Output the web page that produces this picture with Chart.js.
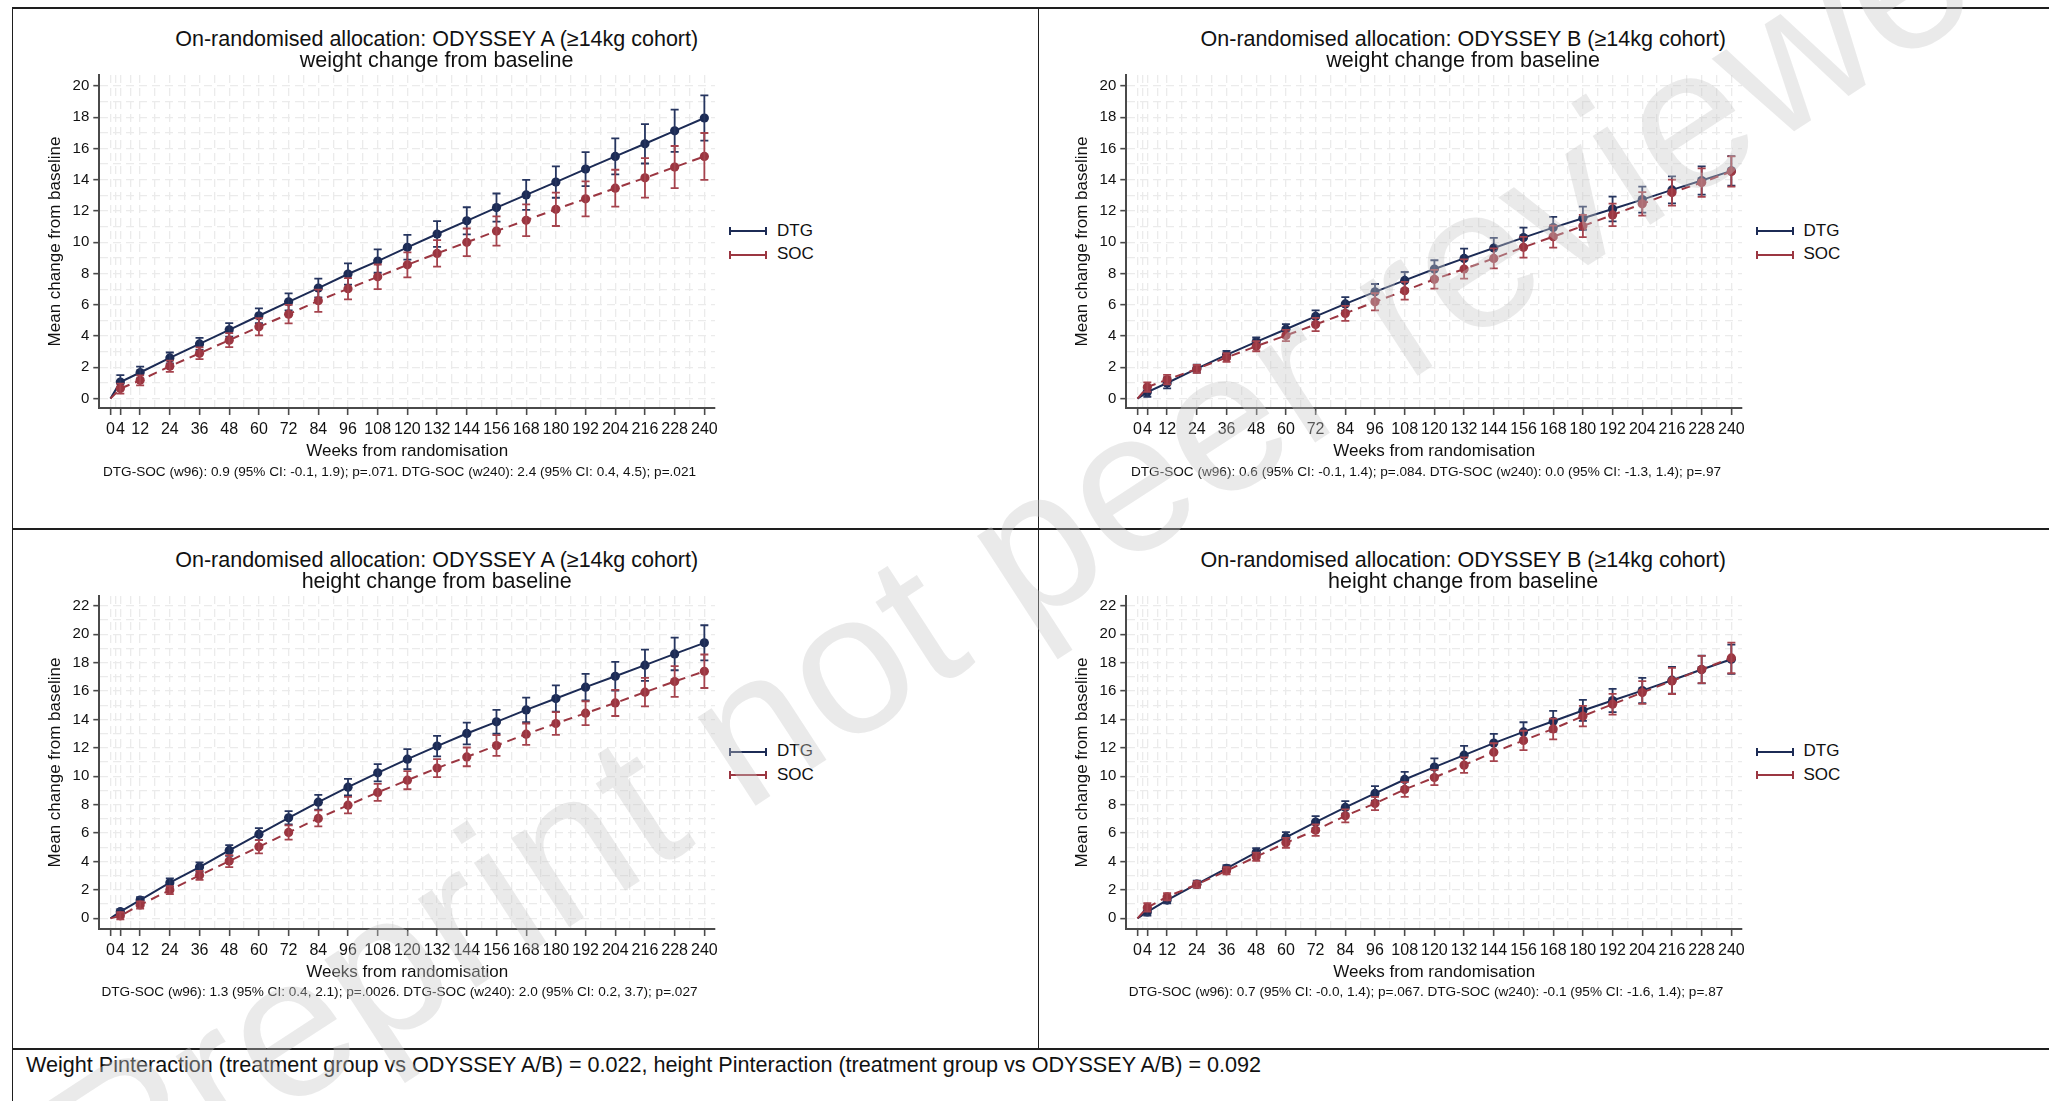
<!DOCTYPE html>
<html>
<head>
<meta charset="utf-8">
<title>ODYSSEY weight and height change</title>
<script src="https://cdn.jsdelivr.net/npm/chart.js@4.4.0/dist/chart.umd.min.js"></script>
<style>
  html, body { margin: 0; padding: 0; background: #fff; }
  body { width: 2049px; height: 1101px; position: relative; overflow: hidden;
         font-family: "Liberation Sans", Arial, sans-serif; color: #111; }
  .rule { position: absolute; background: #1e1e1e; }
  canvas { position: absolute; }
  .ttl { position: absolute; width: 900px; text-align: center; font-size: 21.5px; line-height: 22px; white-space: nowrap; }
  .note { position: absolute; width: 900px; text-align: center; font-size: 13.6px; line-height: 16px; white-space: nowrap; }
  .leg-line { position: absolute; height: 2px; width: 38px; }
  .leg-line::before, .leg-line::after { content: ""; position: absolute; top: -3px; width: 2px; height: 8px; background: inherit; }
  .leg-line::before { left: 0; }
  .leg-line::after { right: 0; }
  .leg-txt { position: absolute; font-size: 17px; line-height: 20px; white-space: nowrap; }
  .footer { position: absolute; left: 26px; top: 1053px; font-size: 21.6px; line-height: 24px; white-space: nowrap; }
  svg.wm { position: absolute; left: 0; top: 0; pointer-events: none; }
</style>
</head>
<body>

<script>
// ---- data (weeks 0..240, value at week 0 is the baseline) ----
const weeks = [0, 4, 12, 24, 36, 48, 60, 72, 84, 96, 108, 120, 132, 144, 156, 168, 180, 192, 204, 216, 228, 240];
const xTickWeeks = [0, 4, 12, 24, 36, 48, 60, 72, 84, 96, 108, 120, 132, 144, 156, 168, 180, 192, 204, 216, 228, 240];
const xGridWeeks = [0, 2, 4, 8, 12, 18, 24, 30, 36, 42, 48, 54, 60, 66, 72, 78, 84, 90, 96, 102, 108, 114, 120,
                    126, 132, 138, 144, 150, 156, 162, 168, 174, 180, 186, 192, 198, 204, 210, 216, 222, 228, 234, 240];
const yGridWeight = [0, 1, 2, 3, 4, 5, 6, 7, 8, 9, 10, 11, 12, 13, 14, 15, 16, 17, 18, 19, 20];
const yGridHeight = [0, 1, 2, 3, 4, 5, 6, 7, 8, 9, 10, 11, 12, 13, 14, 15, 16, 17, 18, 19, 20, 21, 22];

// ODYSSEY A weight
const wtA_DTG    = [0, 1.06, 1.67, 2.60, 3.50, 4.40, 5.30, 6.19, 7.07, 7.97, 8.80, 9.68, 10.53, 11.37, 12.22, 13.03, 13.85, 14.68, 15.49, 16.30, 17.13, 17.95];
const wtA_DTG_ci = [0, 0.44, 0.38, 0.35, 0.38, 0.43, 0.47, 0.54, 0.60, 0.68, 0.75, 0.79, 0.82, 0.87, 0.90, 0.96, 1.00, 1.09, 1.15, 1.26, 1.35, 1.45];
const wtA_SOC    = [0, 0.64, 1.17, 2.07, 2.90, 3.74, 4.59, 5.40, 6.26, 7.03, 7.79, 8.56, 9.29, 10.00, 10.72, 11.41, 12.11, 12.78, 13.46, 14.12, 14.81, 15.49];
const wtA_SOC_ci = [0, 0.32, 0.32, 0.36, 0.38, 0.45, 0.55, 0.59, 0.71, 0.68, 0.79, 0.80, 0.85, 0.88, 0.94, 1.01, 1.07, 1.12, 1.18, 1.26, 1.35, 1.50];

// ODYSSEY B weight
const wtB_DTG    = [0, 0.42, 1.00, 1.92, 2.80, 3.63, 4.44, 5.26, 6.06, 6.83, 7.56, 8.29, 8.97, 9.63, 10.30, 10.94, 11.54, 12.13, 12.73, 13.35, 13.95, 14.57];
const wtB_DTG_ci = [0, 0.30, 0.35, 0.25, 0.25, 0.28, 0.32, 0.38, 0.43, 0.50, 0.54, 0.56, 0.62, 0.65, 0.64, 0.68, 0.74, 0.79, 0.83, 0.86, 0.90, 0.94];
const wtB_SOC    = [0, 0.74, 1.22, 1.90, 2.63, 3.35, 4.04, 4.74, 5.45, 6.19, 6.90, 7.63, 8.29, 8.97, 9.68, 10.36, 11.04, 11.75, 12.46, 13.18, 13.82, 14.53];
const wtB_SOC_ci = [0, 0.30, 0.30, 0.25, 0.28, 0.32, 0.36, 0.42, 0.48, 0.55, 0.57, 0.60, 0.62, 0.64, 0.66, 0.70, 0.71, 0.72, 0.75, 0.83, 0.91, 0.97];

// ODYSSEY A height
const htA_DTG    = [0, 0.47, 1.29, 2.51, 3.61, 4.78, 5.93, 7.08, 8.18, 9.24, 10.25, 11.21, 12.13, 13.02, 13.84, 14.68, 15.48, 16.28, 17.05, 17.83, 18.62, 19.40];
const htA_DTG_ci = [0, 0.18, 0.20, 0.30, 0.33, 0.38, 0.42, 0.47, 0.52, 0.58, 0.61, 0.70, 0.72, 0.77, 0.84, 0.87, 0.92, 0.93, 1.01, 1.10, 1.15, 1.24];
const htA_SOC    = [0, 0.18, 0.94, 1.99, 3.03, 4.03, 5.04, 6.05, 7.04, 7.97, 8.87, 9.73, 10.58, 11.37, 12.17, 12.97, 13.72, 14.45, 15.17, 15.93, 16.68, 17.40];
const htA_SOC_ci = [0, 0.25, 0.25, 0.28, 0.32, 0.42, 0.47, 0.50, 0.56, 0.58, 0.60, 0.64, 0.63, 0.66, 0.73, 0.75, 0.80, 0.84, 0.92, 1.00, 1.08, 1.18];

// ODYSSEY B height
const htB_DTG    = [0, 0.45, 1.29, 2.41, 3.52, 4.64, 5.70, 6.78, 7.81, 8.80, 9.78, 10.65, 11.49, 12.34, 13.13, 13.88, 14.64, 15.34, 16.04, 16.77, 17.52, 18.25];
const htB_DTG_ci = [0, 0.25, 0.23, 0.25, 0.23, 0.31, 0.37, 0.42, 0.44, 0.51, 0.54, 0.61, 0.66, 0.65, 0.68, 0.73, 0.74, 0.82, 0.89, 0.94, 0.98, 1.03];
const htB_SOC    = [0, 0.77, 1.52, 2.39, 3.35, 4.34, 5.32, 6.21, 7.22, 8.09, 9.08, 9.92, 10.79, 11.70, 12.53, 13.34, 14.24, 15.08, 15.90, 16.72, 17.52, 18.34];
const htB_SOC_ci = [0, 0.30, 0.25, 0.22, 0.25, 0.29, 0.35, 0.40, 0.46, 0.47, 0.52, 0.54, 0.54, 0.63, 0.68, 0.73, 0.72, 0.73, 0.80, 0.92, 0.96, 1.08];

const panelTitles = [
  ['On-randomised allocation: ODYSSEY A (\u226514kg cohort)', 'weight change from baseline'],
  ['On-randomised allocation: ODYSSEY B (\u226514kg cohort)', 'weight change from baseline'],
  ['On-randomised allocation: ODYSSEY A (\u226514kg cohort)', 'height change from baseline'],
  ['On-randomised allocation: ODYSSEY B (\u226514kg cohort)', 'height change from baseline']
];
const panelNotes = [
  'DTG-SOC (w96): 0.9 (95% CI: -0.1, 1.9); p=.071. DTG-SOC (w240): 2.4 (95% CI: 0.4, 4.5); p=.021',
  'DTG-SOC (w96): 0.6 (95% CI: -0.1, 1.4); p=.084. DTG-SOC (w240): 0.0 (95% CI: -1.3, 1.4); p=.97',
  'DTG-SOC (w96): 1.3 (95% CI: 0.4, 2.1); p=.0026. DTG-SOC (w240): 2.0 (95% CI: 0.2, 3.7); p=.027',
  'DTG-SOC (w96): 0.7 (95% CI: -0.0, 1.4); p=.067. DTG-SOC (w240): -0.1 (95% CI: -1.6, 1.4); p=.87'
];
const footerText = 'Weight Pinteraction (treatment group vs ODYSSEY A/B) = 0.022, height Pinteraction (treatment group vs ODYSSEY A/B) = 0.092';

const DTG_COLOR = '#1c2b55';
const SOC_COLOR = '#9b3641';
const DTG_BAR = '#26355f';
const SOC_BAR = '#a5434d';
const GRID_COLOR = '#ebebeb';
const AXIS_COLOR = '#4a4a4a';

Chart.defaults.font.family = '"Liberation Sans", Arial, sans-serif';
Chart.defaults.color = '#111';

// vertical CI bars with caps, drawn right after each dataset
const errorBars = {
  id: 'errorBars',
  afterDatasetDraw(chart, args) {
    const ds = chart.data.datasets[args.index];
    if (!ds.err) return;
    const { ctx, scales: { x, y } } = chart;
    ctx.save();
    ctx.strokeStyle = ds.barColor;
    ctx.lineWidth = 1.8;
    ds.data.forEach((p, i) => {
      const e = ds.err[i];
      if (!e) return;
      const px = x.getPixelForValue(p.x);
      const top = y.getPixelForValue(p.y + e);
      const bot = y.getPixelForValue(p.y - e);
      ctx.beginPath();
      ctx.moveTo(px, top); ctx.lineTo(px, bot);
      ctx.moveTo(px - 4, top); ctx.lineTo(px + 4, top);
      ctx.moveTo(px - 4, bot); ctx.lineTo(px + 4, bot);
      ctx.stroke();
    });
    ctx.restore();
  }
};

function addDiv(cls, text, css) {
  const d = document.createElement('div');
  d.className = cls;
  if (text) d.textContent = text;
  Object.assign(d.style, css);
  document.body.appendChild(d);
  return d;
}

function makePanel(k, dx, dy, dtg, dtgCi, soc, socCi, yMin, yMax, yGrid) {
  // canvas spans 20..723 x 62..470 (top-left panel); plot area lands at 99.3..715 x 75..408
  const cv = document.createElement('canvas');
  cv.width = 703;
  cv.height = 408;
  cv.style.left = (20 + dx) + 'px';
  cv.style.top = (62 + dy) + 'px';
  document.body.appendChild(cv);

  new Chart(cv, {
    type: 'line',
    data: {
      datasets: [
        {
          label: 'DTG',
          data: weeks.map((w, i) => ({ x: w, y: dtg[i] })),
          err: dtgCi,
          barColor: DTG_BAR,
          borderColor: DTG_COLOR,
          backgroundColor: DTG_COLOR,
          borderWidth: 2,
          pointRadius: c => (c.dataIndex === 0 ? 0 : 4.6),
          pointBorderWidth: 0,
          pointHoverRadius: 0,
          tension: 0,
          order: 1
        },
        {
          label: 'SOC',
          data: weeks.map((w, i) => ({ x: w, y: soc[i] })),
          err: socCi,
          barColor: SOC_BAR,
          borderColor: SOC_COLOR,
          backgroundColor: SOC_COLOR,
          borderWidth: 2,
          borderDash: [9, 6],
          pointRadius: c => (c.dataIndex === 0 ? 0 : 4.6),
          pointBorderWidth: 0,
          pointHoverRadius: 0,
          tension: 0,
          order: 0
        }
      ]
    },
    options: {
      responsive: false,
      animation: false,
      devicePixelRatio: 1,
      layout: { padding: { left: 0, top: 13, right: 8, bottom: 2 } },
      plugins: { legend: { display: false }, tooltip: { enabled: false } },
      scales: {
        x: {
          type: 'linear',
          min: -4.5,
          max: 244.3,
          afterBuildTicks: s => { s.ticks = xGridWeeks.map(v => ({ value: v })); },
          afterFit: s => { s.height = 60; },
          ticks: {
            autoSkip: false, maxRotation: 0, minRotation: 0, padding: 5,
            color: '#111', font: { size: 16 },
            callback: v => (xTickWeeks.includes(v) ? String(v) : '')
          },
          grid: {
            color: GRID_COLOR, lineWidth: 1.3, drawTicks: true, tickLength: 7, tickWidth: 1.6,
            tickColor: c => (c.tick && xTickWeeks.includes(c.tick.value) ? AXIS_COLOR : 'rgba(0,0,0,0)')
          },
          border: { display: true, color: AXIS_COLOR, width: 2, dash: [8, 5] },
          title: { display: true, text: 'Weeks from randomisation', color: '#111', font: { size: 17 }, padding: { top: 0, bottom: 6.8 } }
        },
        y: {
          type: 'linear',
          min: yMin,
          max: yMax,
          afterBuildTicks: s => { s.ticks = yGrid.map(v => ({ value: v })); },
          afterFit: s => { s.width = 79.3; },
          ticks: {
            autoSkip: false, padding: 4, color: '#111', font: { size: 15 },
            callback: v => (v % 2 === 0 ? String(v) : '')
          },
          grid: {
            color: GRID_COLOR, lineWidth: 1.3, drawTicks: true, tickLength: 6, tickWidth: 1.6,
            tickColor: c => (c.tick && c.tick.value % 2 === 0 ? AXIS_COLOR : 'rgba(0,0,0,0)')
          },
          border: { display: true, color: AXIS_COLOR, width: 2, dash: [8, 5] },
          title: { display: true, text: 'Mean change from baseline', color: '#111', font: { size: 17 }, padding: { top: 25, bottom: 0 } }
        }
      }
    },
    plugins: [errorBars]
  });

  // titles, note and legend
  addDiv('ttl', panelTitles[k][0], { left: (436.7 + dx - 450) + 'px', top: (40 + dy - 12) + 'px' });
  addDiv('ttl', panelTitles[k][1], { left: (436.7 + dx - 450) + 'px', top: (61 + dy - 12) + 'px' });
  addDiv('note', panelNotes[k], { left: (399.5 + dx - 450) + 'px', top: (471.6 + dy - 8) + 'px' });
  addDiv('leg-line', '', { left: (729 + dx) + 'px', top: (230 + dy) + 'px', background: DTG_COLOR });
  addDiv('leg-line', '', { left: (729 + dx) + 'px', top: (253.5 + dy) + 'px', background: SOC_COLOR });
  addDiv('leg-txt', 'DTG', { left: (777 + dx) + 'px', top: (220.6 + dy) + 'px' });
  addDiv('leg-txt', 'SOC', { left: (777 + dx) + 'px', top: (244.2 + dy) + 'px' });
}

const DX = 1026.5;
const DY = 520.7;
makePanel(0, 0, 0, wtA_DTG, wtA_DTG_ci, wtA_SOC, wtA_SOC_ci, -0.6, 20.7, yGridWeight);
makePanel(1, DX, 0, wtB_DTG, wtB_DTG_ci, wtB_SOC, wtB_SOC_ci, -0.6, 20.7, yGridWeight);
makePanel(2, 0, DY, htA_DTG, htA_DTG_ci, htA_SOC, htA_SOC_ci, -0.75, 22.7, yGridHeight);
makePanel(3, DX, DY, htB_DTG, htB_DTG_ci, htB_SOC, htB_SOC_ci, -0.75, 22.7, yGridHeight);

// table rules
addDiv('rule', '', { left: '12px', top: '7px', width: '2037px', height: '1.5px' });
addDiv('rule', '', { left: '11.5px', top: '7px', width: '1.5px', height: '1094px' });
addDiv('rule', '', { left: '1037.5px', top: '7px', width: '1.5px', height: '1041px' });
addDiv('rule', '', { left: '12px', top: '528px', width: '2037px', height: '1.5px' });
addDiv('rule', '', { left: '12px', top: '1048px', width: '2037px', height: '1.5px' });
addDiv('footer', footerText, {});

// watermark
const ns = 'http://www.w3.org/2000/svg';
const svg = document.createElementNS(ns, 'svg');
svg.setAttribute('class', 'wm');
svg.setAttribute('width', '2049');
svg.setAttribute('height', '1101');
const t = document.createElementNS(ns, 'text');
t.setAttribute('x', '110');
t.setAttribute('y', '1225');
t.setAttribute('transform', 'rotate(-33 110 1225)');
t.setAttribute('font-size', '200');
t.setAttribute('font-family', 'Liberation Sans, Arial, sans-serif');
t.setAttribute('fill', 'rgba(200,200,200,0.38)');
t.textContent = 'Preprint not peer reviewed';
svg.appendChild(t);
document.body.appendChild(svg);
</script>
</body>
</html>
